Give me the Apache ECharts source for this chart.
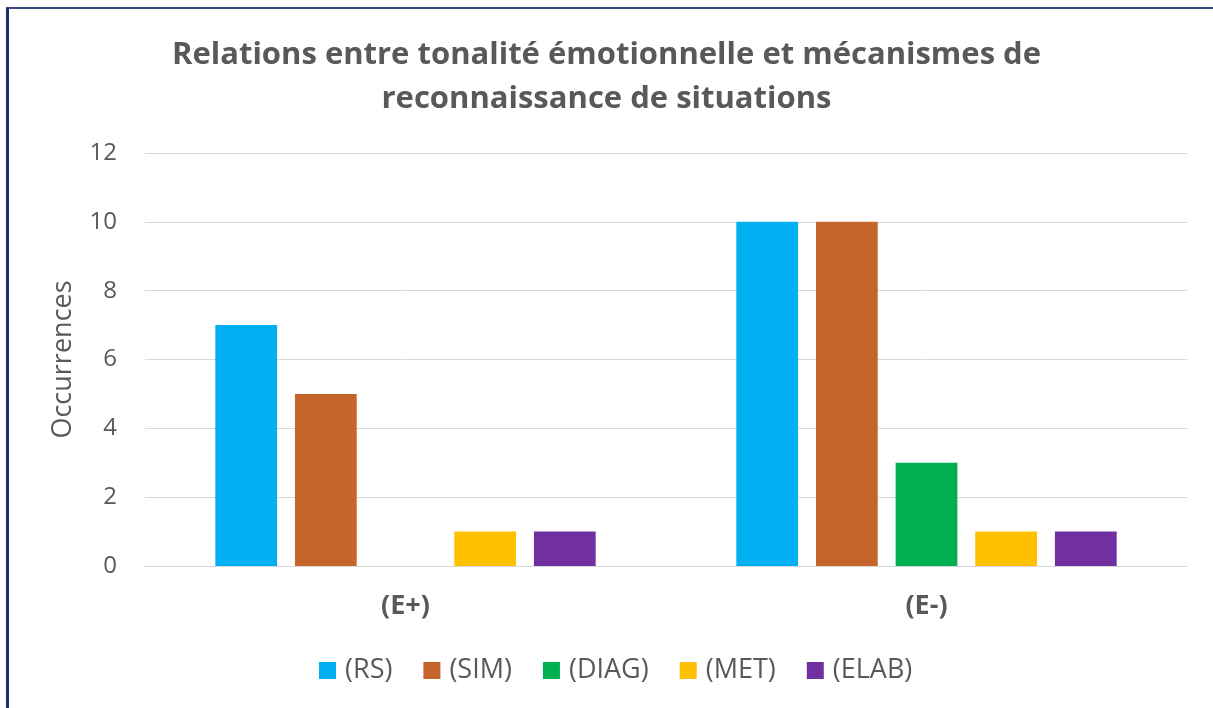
<!DOCTYPE html>
<html>
<head>
<meta charset="utf-8">
<script src="https://cdn.jsdelivr.net/npm/echarts@6/dist/echarts.min.js"></script>
<style>
  html, body { margin: 0; padding: 0; background: #fff; }
  #chart { width: 1213px; height: 708px; }
  .frame {
    position: absolute; left: 6px; top: 7px; right: -10px; bottom: -10px;
    border-left: 3px solid #1f2f73; border-top: 2px solid #3a4a80;
    pointer-events: none;
  }
</style>
</head>
<body>
<div id="chart"></div>
<div class="frame"></div>
<script>
// catégories et séries
const categories = ['(E+)', '(E-)']
const seriesNames = ['(RS)', '(SIM)', '(DIAG)', '(MET)', '(ELAB)']
const seriesColors = ['#00b0f0', '#c5652c', '#00b050', '#ffc000', '#7030a0']
const rsValues = [7, 10]
const simValues = [5, 10]
const diagValues = [0, 3]
const metValues = [1, 1]
const elabValues = [1, 1]
const yTicks = [0, 2, 4, 6, 8, 10, 12]

const values = [rsValues, simValues, diagValues, metValues, elabValues]
const font = 'Open Sans'

const myChart = echarts.init(document.getElementById('chart'))
myChart.setOption({
  backgroundColor: '#fff',
  title: {
    text: 'Relations entre tonalité émotionnelle et mécanismes de\nreconnaissance de situations',
    left: 'center',
    top: 28,
    textStyle: {
      fontFamily: font,
      fontSize: 31,
      fontWeight: 'bold',
      color: '#595959',
      lineHeight: 44,
    },
  },
  legend: {
    data: seriesNames,
    top: 652,
    left: 314,
    itemWidth: 17,
    itemHeight: 17,
    itemGap: 31,
    icon: 'rect',
    textStyle: { fontFamily: font, fontSize: 27, color: '#595959', padding: [0, 0, 0, 4] },
  },
  grid: { left: 145, right: 26, top: 153, bottom: 142 },
  xAxis: {
    type: 'category',
    data: categories,
    axisLine: { lineStyle: { color: '#d9d9d9', width: 1 } },
    axisTick: { show: false },
    axisLabel: {
      fontFamily: font,
      fontSize: 27,
      fontWeight: 'bold',
      color: '#595959',
      margin: 27,
    },
  },
  yAxis: {
    type: 'value',
    min: yTicks[0],
    max: yTicks[yTicks.length - 1],
    interval: 2,
    name: 'Occurrences',
    nameLocation: 'middle',
    nameGap: 68,
    nameTextStyle: { fontFamily: font, fontSize: 27, color: '#595959' },
    axisLabel: { fontFamily: font, fontSize: 24, color: '#595959', margin: 28 },
    splitLine: { lineStyle: { color: '#d9d9d9', width: 1 } },
  },
  series: seriesNames.map((name, i) => ({
    name: name,
    type: 'bar',
    data: values[i],
    itemStyle: { color: seriesColors[i] },
    barGap: '29%',
    barCategoryGap: '27%',
  })),
})
</script>
</body>
</html>
